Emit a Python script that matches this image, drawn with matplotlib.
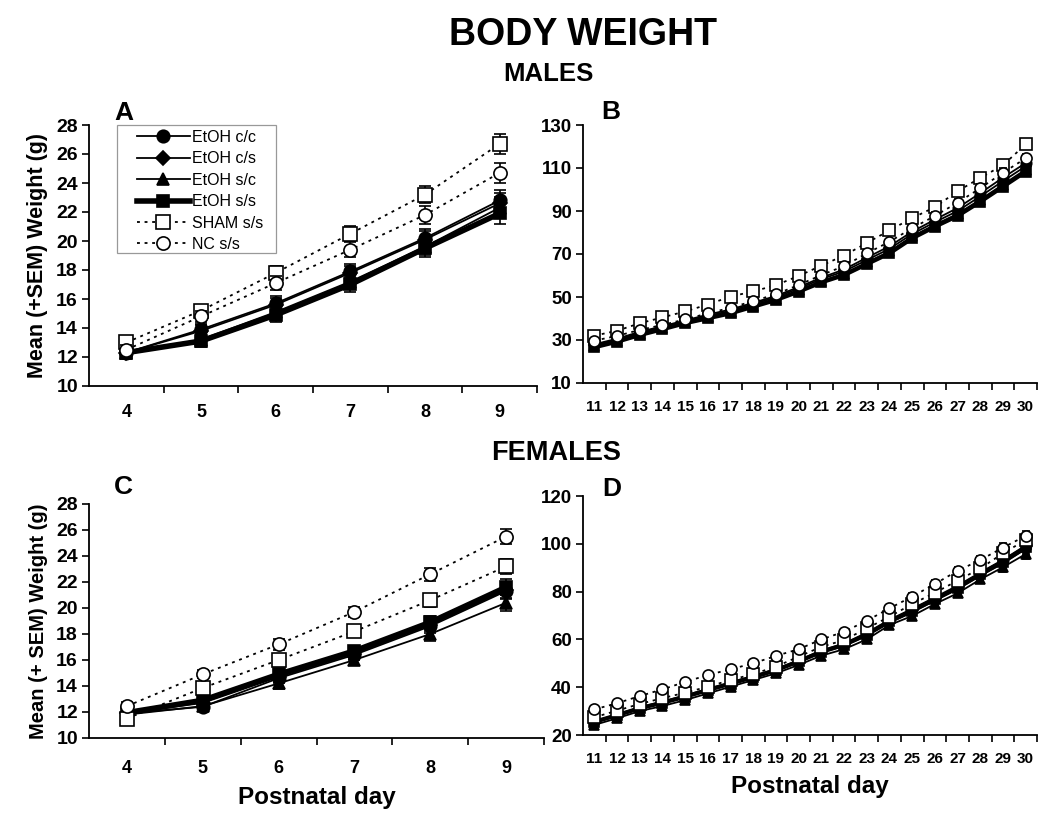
import numpy as np
import matplotlib
matplotlib.use('Agg')
import matplotlib.pyplot as plt
from matplotlib.patches import Rectangle

plt.rcParams['font.family'] = ['Liberation Sans', 'DejaVu Sans']

# x categories
days_early = [4, 5, 6, 7, 8, 9]
days_late = list(range(11, 31))

labels = ['EtOH c/c', 'EtOH c/s', 'EtOH s/c', 'EtOH s/s', 'SHAM s/s', 'NC s/s']

# Panel A - males, PD 4-9
a_cc = [12.3, 13.9, 15.7, 17.9, 20.2, 22.8]
a_cs = [12.3, 13.8, 15.6, 17.8, 20.1, 22.6]
a_sc = [12.3, 13.2, 15.1, 17.2, 19.6, 22.3]
a_ss = [12.3, 13.1, 14.9, 17.0, 19.5, 21.9]
a_sham = [13.0, 15.2, 17.8, 20.5, 23.2, 26.7]
a_nc = [12.5, 14.8, 17.1, 19.4, 21.8, 24.7]
a_sem = [0.3, 0.4, 0.5, 0.5, 0.6, 0.7]

# Panel B - males, PD 11-30
b_cc = [28.0, 30.6, 33.8, 36.4, 39.1, 41.8, 44.2, 47.3, 50.5, 54.6,
        59.0, 62.8, 68.3, 73.6, 80.4, 86.0, 91.4, 98.3, 105.5, 112.3]
b_cs = [27.6, 30.2, 33.3, 36.0, 38.7, 41.2, 43.6, 46.7, 49.9, 53.9,
        58.3, 61.9, 67.2, 72.4, 79.3, 84.8, 90.0, 96.8, 103.9, 110.8]
b_sc = [27.0, 29.6, 32.7, 35.4, 38.2, 40.6, 42.9, 46.0, 49.2, 53.1,
        57.4, 60.9, 66.1, 71.2, 78.2, 83.6, 88.7, 95.3, 102.3, 109.3]
b_ss = [26.6, 29.2, 32.3, 35.0, 37.8, 40.1, 42.4, 45.5, 48.6, 52.5,
        56.8, 60.2, 65.3, 70.3, 77.3, 82.7, 87.7, 94.3, 101.3, 108.3]
b_sham = [32.0, 34.3, 37.8, 40.5, 43.3, 46.5, 50.2, 52.6, 55.5, 59.8,
          64.6, 69.3, 75.1, 81.0, 86.7, 91.8, 99.2, 105.4, 111.3, 121.0]
b_nc = [29.7, 31.9, 34.7, 37.0, 39.6, 42.4, 45.0, 48.1, 51.3, 55.6,
        60.2, 64.4, 70.3, 75.7, 82.0, 87.7, 93.9, 100.6, 107.8, 114.5]
b_sem = [0.8, 0.8, 0.9, 0.9, 1.0, 1.0, 1.0, 1.1, 1.1, 1.2,
         1.2, 1.3, 1.4, 1.5, 1.6, 1.7, 1.8, 1.9, 2.0, 2.2]

# Panel C - females, PD 4-9
c_cc = [11.9, 12.4, 14.6, 16.4, 18.6, 21.3]
c_cs = [11.9, 12.7, 14.7, 16.5, 18.7, 21.4]
c_sc = [11.8, 12.45, 14.2, 16.0, 18.0, 20.4]
c_ss = [11.95, 12.9, 14.9, 16.7, 18.9, 21.6]
c_sham = [11.5, 13.85, 16.0, 18.2, 20.6, 23.2]
c_nc = [12.45, 14.9, 17.2, 19.7, 22.6, 25.5]
c_sem = [0.3, 0.3, 0.4, 0.4, 0.5, 0.6]

# Panel D - females, PD 11-30
d_cc = [25.8, 28.6, 31.6, 34.0, 36.6, 39.3, 42.0, 44.8, 47.6, 51.3,
        55.4, 58.3, 62.8, 68.2, 72.8, 77.6, 82.5, 88.0, 93.3, 99.3]
d_cs = [25.2, 28.0, 31.0, 33.3, 35.8, 38.6, 41.3, 44.0, 46.9, 50.5,
        54.5, 57.3, 61.6, 67.0, 71.3, 76.2, 81.0, 86.6, 91.8, 97.8]
d_sc = [24.2, 27.0, 30.0, 32.1, 34.6, 37.4, 40.2, 43.0, 45.8, 49.3,
        53.2, 55.9, 60.0, 66.0, 69.8, 74.8, 79.3, 85.1, 90.2, 95.7]
d_ss = [25.5, 28.3, 31.2, 33.5, 36.0, 38.8, 41.5, 44.2, 47.1, 50.8,
        54.8, 57.7, 62.0, 67.5, 72.0, 76.8, 81.6, 87.2, 92.5, 98.5]
d_sham = [27.4, 30.2, 33.0, 35.4, 37.7, 40.2, 43.0, 45.5, 48.6, 52.8,
          56.9, 59.7, 64.6, 69.5, 74.8, 79.5, 84.6, 89.7, 96.0, 101.6]
d_nc = [30.7, 33.3, 36.3, 39.1, 42.2, 45.1, 47.5, 50.0, 53.1, 55.9,
        60.0, 63.2, 67.8, 73.0, 77.9, 83.2, 88.7, 93.2, 98.4, 103.3]
d_sem = [0.7, 0.7, 0.8, 0.8, 0.9, 0.9, 1.0, 1.0, 1.1, 1.1,
         1.2, 1.2, 1.3, 1.4, 1.5, 1.5, 1.6, 1.7, 1.8, 1.9]


def draw_panel(ax, days, series, sem, ylim, yticks, big, xfs, yfs, xpad):
    n = len(days)
    x = np.arange(n) + 0.5
    ms = 9 if big else 7.5
    thick = 4 if big else 3
    dot = (0, (1.6, 2.6))
    styles = [
        dict(marker='o', ls='-', lw=1.3, mfc='k', ms=ms),
        dict(marker='D', ls='-', lw=1.3, mfc='k', ms=ms - 2),
        dict(marker='^', ls='-', lw=1.3, mfc='k', ms=ms),
        dict(marker='s', ls='-', lw=thick, mfc='k', ms=ms - 1),
        dict(marker='s', ls=dot, lw=1.3, mfc='white', ms=ms + 0.5),
        dict(marker='o', ls=dot, lw=1.3, mfc='white', ms=ms + 0.5),
    ]
    handles = []
    for vals, st, lab in zip(series, styles, labels):
        ax.errorbar(x, vals, yerr=sem, fmt='none', ecolor='k',
                    elinewidth=1.2, capsize=4 if big else 3, capthick=1.2)
        h, = ax.plot(x, vals, color='k', mec='k', mew=1.2, label=lab, **st)
        handles.append(h)

    ax.set_xlim(0, n)
    ax.set_ylim(*ylim)
    ax.set_yticks(yticks)
    ax.set_xticks(x)
    ax.set_xticklabels([str(d) for d in days], fontsize=xfs, fontweight='bold')
    ax.set_xticks(np.arange(1, n + 1), minor=True)
    ax.tick_params(axis='x', which='major', length=0, pad=xpad)
    ax.tick_params(axis='x', which='minor', length=5, width=1.2, direction='out')
    ax.tick_params(axis='y', length=5, width=1.2, direction='out', pad=3)
    for lab in ax.get_yticklabels():
        lab.set_fontsize(yfs)
        lab.set_fontweight('bold')
    for s in ['top', 'right']:
        ax.spines[s].set_visible(False)
    for s in ['left', 'bottom']:
        ax.spines[s].set_linewidth(1.3)
    return handles


fig = plt.figure(figsize=(10.5, 8.15), dpi=100)
W, H = 1050, 815

axA = fig.add_axes([89 / W, 1 - 386 / H, 448 / W, 261 / H])
axB = fig.add_axes([583 / W, 1 - 383 / H, 454 / W, 258 / H])
axC = fig.add_axes([89 / W, 1 - 738 / H, 455 / W, 234 / H])
axD = fig.add_axes([583 / W, 1 - 735 / H, 454 / W, 239 / H])

hA = draw_panel(axA, days_early, [a_cc, a_cs, a_sc, a_ss, a_sham, a_nc], a_sem,
                (10, 28), np.arange(10, 29, 2), True, 13, 14, 13)
draw_panel(axB, days_late, [b_cc, b_cs, b_sc, b_ss, b_sham, b_nc], b_sem,
           (10, 130), np.arange(10, 131, 20), False, 11, 13.5, 12)
draw_panel(axC, days_early, [c_cc, c_cs, c_sc, c_ss, c_sham, c_nc], c_sem,
           (10, 28), np.arange(10, 29, 2), True, 13, 14, 16)
draw_panel(axD, days_late, [d_cc, d_cs, d_sc, d_ss, d_sham, d_nc], d_sem,
           (20, 120), np.arange(20, 121, 20), False, 11, 13.5, 12.5)

# legend box drawn by hand (wide Excel-style padding)
box = Rectangle((117 / W, 1 - 253 / H), 159 / W, 128 / H,
                transform=fig.transFigure, facecolor='white',
                edgecolor='#999999', lw=0.9, zorder=4, clip_on=False)
axA.add_patch(box)
leg = axA.legend(handles=hA, loc='upper left',
                 bbox_to_anchor=(137 / W, 1 - 130 / H),
                 bbox_transform=fig.transFigure,
                 borderaxespad=0, borderpad=0, fontsize=11.5, handlelength=3.3,
                 handletextpad=0.15, labelspacing=0.4, frameon=False)
leg.set_zorder(5)

axA.set_ylabel('Mean (+SEM) Weight (g)', fontsize=15.5, fontweight='bold', labelpad=6)
axC.set_ylabel('Mean (+ SEM) Weight (g)', fontsize=14.5, fontweight='bold', labelpad=6)
axC.set_xlabel('Postnatal day', fontsize=17.5, fontweight='bold', labelpad=6)
axD.set_xlabel('Postnatal day', fontsize=17.5, fontweight='bold', labelpad=6)

fig.text(583 / W, 1 - 35 / H, 'BODY WEIGHT', fontsize=27, fontweight='bold',
         ha='center', va='center')
fig.text(548 / W, 1 - 74 / H, 'MALES', fontsize=18.5, fontweight='bold',
         ha='center', va='center')
fig.text(556 / W, 1 - 453 / H, 'FEMALES', fontsize=19.5, fontweight='bold',
         ha='center', va='center')

for letter, px, py in [('A', 114, 113), ('B', 601, 112), ('C', 114, 487), ('D', 602, 489)]:
    fig.text(px / W, 1 - py / H, letter, fontsize=19, fontweight='bold',
             ha='left', va='center')

fig.savefig('out.png', dpi=100)
